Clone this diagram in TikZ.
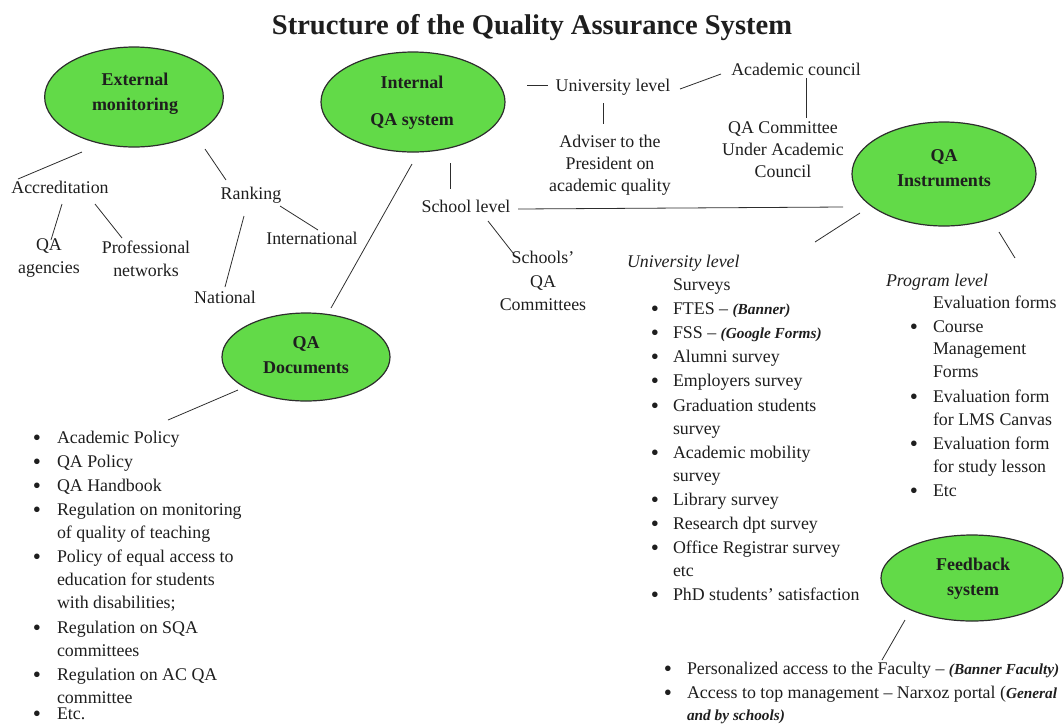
\documentclass[tikz,border=0pt]{standalone}
\usepackage{fontspec}
\setmainfont{Liberation Serif}
\usetikzlibrary{shapes.geometric}
\definecolor{qagreen}{RGB}{98,218,72}
\definecolor{ink}{RGB}{30,30,30}
\definecolor{edgec}{RGB}{45,45,45}
\newcommand\qabul[1]{\llap{\raisebox{-1.8pt}{\scalebox{1.3}{\textbullet}}\hspace{#1}}}
\newcommand\qanote[1]{{\fontsize{11.5}{13}\selectfont\bfseries\itshape #1}}
\begin{document}
\begin{tikzpicture}[x=0.75pt,y=-0.75pt,
  every node/.style={inner sep=0pt, outer sep=0pt, text=ink},
  bubble/.style={ellipse, draw=edgec, line width=0.9pt, fill=qagreen},
  blabel/.style={font=\fontsize{13.5}{18.5}\selectfont\bfseries, align=center},
  txt/.style={font=\fontsize{13.4}{17}\selectfont, align=center},
  conn/.style={draw=edgec, line width=0.6pt},
  li/.style={font=\fontsize{13.4}{17}\selectfont, anchor=base west},
]
\useasboundingbox (0,0) rectangle (1064,726);

% title
\node[font=\fontsize{21.4}{26}\selectfont\bfseries] (title) at (532,28) {Structure of the Quality Assurance System};

% ellipses
\node[bubble, minimum width=134pt, minimum height=75pt] (ext) at (134,97) {};
\node[blabel] (extl) at (135,94) {External\\monitoring};
\node[bubble, minimum width=138pt, minimum height=75pt] (int) at (413,102) {};
\node[blabel, font=\fontsize{13.5}{27.75}\selectfont\bfseries] (intl) at (412,102.5) {Internal\\QA system};
\node[bubble, minimum width=138pt, minimum height=78pt] (ins) at (944,174) {};
\node[blabel] (insl) at (944,168) {QA\\Instruments};
\node[bubble, minimum width=126pt, minimum height=66pt] (doc) at (306,357) {};
\node[blabel] (docl) at (306,355) {QA\\Documents};
\node[bubble, minimum width=136.5pt, minimum height=64.5pt] (fb) at (972,578) {};
\node[blabel] (fbl) at (973,578.5) {Feedback\\system};

% plain labels
\node[txt] (accr) at (60,187) {Accreditation};
\node[txt, font=\fontsize{13.4}{17.25}\selectfont] (agen) at (49,258.5) {QA\\agencies};
\node[txt, font=\fontsize{13.4}{17.25}\selectfont] (prof) at (146,258.5) {Professional\\networks};
\node[txt] (rank) at (251,195) {Ranking};
\node[txt] (intn) at (312,238) {International};
\node[txt] (natl) at (225,297) {National};
\node[txt] (univ) at (613,87) {University level};
\node[txt] (acad) at (796,69) {Academic council};
\node[txt, font=\fontsize{13.4}{16.5}\selectfont] (adv) at (610,165) {Adviser to the\\President on\\academic quality};
\node[txt, font=\fontsize{13.4}{16.5}\selectfont] (qac) at (783,150) {QA Committee\\Under Academic\\Council};
\node[txt] (school) at (466,206) {School level};
\node[txt, font=\fontsize{13.4}{17.6}\selectfont] (sqa) at (543,281) {Schools’\\QA\\Committees};

% documents list
\foreach \yy/\t in {437/\qabul{12pt}Academic Policy, 461/\qabul{12pt}QA Policy, 485/\qabul{12pt}QA Handbook,
  509/\qabul{12pt}Regulation on monitoring, 532/of quality of teaching,
  556/\qabul{12pt}Policy of equal access to, 579/education for students, 602/with disabilities;,
  627/\qabul{12pt}Regulation on SQA, 650/committees,
  674/\qabul{12pt}Regulation on AC QA, 697/committee, 713/\qabul{12pt}Etc.}
  {\node[li] (d\yy) at (57,\yy+6) {\t};}

% university level list
\node[li, font=\fontsize{13.4}{17}\selectfont\itshape] (ulh) at (627,267) {University level};
\foreach \yy/\t in {284/Surveys, 308/\qabul{10.5pt}FTES – \qanote{(Banner)}, 332/\qabul{10.5pt}FSS – \qanote{(Google Forms)},
  356/\qabul{10.5pt}Alumni survey, 380/\qabul{10.5pt}Employers survey,
  405/\qabul{10.5pt}Graduation students, 428/survey,
  452/\qabul{10.5pt}Academic mobility, 475/survey,
  499/\qabul{10.5pt}Library survey, 523/\qabul{10.5pt}Research dpt survey,
  547/\qabul{10.5pt}Office Registrar survey, 570/etc,
  594/\qabul{10.5pt}PhD students’ satisfaction}
  {\node[li] (u\yy) at (673,\yy+6) {\t};}

% program level list
\node[li, font=\fontsize{13.4}{17}\selectfont\itshape] (plh) at (886,286) {Program level};
\foreach \yy/\t in {302/Evaluation forms, 326/\qabul{11.25pt}Course, 348/Management, 371/Forms,
  396/\qabul{11.25pt}Evaluation form, 419/for LMS Canvas,
  443/\qabul{11.25pt}Evaluation form, 466/for study lesson, 490/\qabul{11.25pt}Etc}
  {\node[li] (p\yy) at (933,\yy+6) {\t};}

% feedback list
\node[li] (f1) at (687,674) {\qabul{11.25pt}Personalized access to the Faculty – \qanote{(Banner Faculty)}};
\node[li] (f2) at (687,698) {\qabul{11.25pt}Access to top management – Narxoz portal (\qanote{General}};
\node[li] (f3) at (687,720) {\qanote{and by schools)}};

% connector end points
\coordinate (c1a) at (82,152);  \coordinate (c1b) at (18,179);
\coordinate (c2a) at (62,204);  \coordinate (c2b) at (51,240);
\coordinate (c3a) at (95,204);  \coordinate (c3b) at (122,238);
\coordinate (c4a) at (205,149); \coordinate (c4b) at (226,180);
\coordinate (c5a) at (280,206); \coordinate (c5b) at (318,230);
\coordinate (c6a) at (244,216); \coordinate (c6b) at (225,287);
\coordinate (c7a) at (412,164); \coordinate (c7b) at (331,308);
\coordinate (c8a) at (450,163); \coordinate (c8b) at (450,189);
\coordinate (c9a) at (518,209); \coordinate (c9b) at (843,207);
\coordinate (c10a) at (488,221); \coordinate (c10b) at (513,253);
\coordinate (c11a) at (527,85); \coordinate (c11b) at (548,85);
\coordinate (c12a) at (680,89); \coordinate (c12b) at (721,74);
\coordinate (c13a) at (603,103); \coordinate (c13b) at (603,124);
\coordinate (c14a) at (806,78); \coordinate (c14b) at (806,118);
\coordinate (c15a) at (860,213); \coordinate (c15b) at (815,242);
\coordinate (c16a) at (999,232); \coordinate (c16b) at (1015,258);
\coordinate (c17a) at (238,390); \coordinate (c17b) at (168,420);
\coordinate (c18a) at (905,620); \coordinate (c18b) at (882,660);

\foreach \i in {1,...,18} {\draw[conn] (c\i a) -- (c\i b);}
\end{tikzpicture}
\end{document}
